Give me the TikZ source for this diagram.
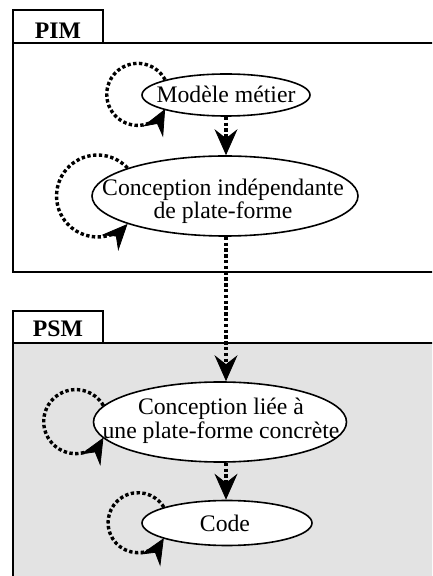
\documentclass[tikz,border=0pt]{standalone}
\usepackage{fontspec}
\setmainfont{Liberation Serif}
\usetikzlibrary{shapes.geometric,arrows.meta}
\definecolor{psmgray}{RGB}{227,227,227}
\begin{document}
\begin{tikzpicture}[x=1pt,y=1pt,
  frame/.style={draw=black, line width=1.1pt},
  tab/.style={draw=black, line width=1.1pt, fill=white},
  stage/.style={ellipse, draw=black, line width=1.6pt, fill=white, inner sep=0pt},
  caption/.style={font=\fontsize{23.7}{24}\selectfont, anchor=base, inner sep=0pt},
  tabtitle/.style={font=\fontsize{23.7}{24}\selectfont\bfseries, anchor=base, inner sep=0pt},
  flow/.style={line width=3.4pt, dash pattern=on 3.4pt off 2.4pt,
    -{Stealth[length=26pt,width=23pt,inset=9pt,line width=0.8pt]}},
]
\useasboundingbox (0,0) rectangle (432,576);
\clip (0,0) rectangle (432,576);

% PIM package
\draw[frame, fill=white] (13,304) rectangle (445,533);
\draw[tab] (13,533) rectangle (103,566);
\node[tabtitle] (pimT) at (58,537.7) {PIM};

% PSM package
\draw[frame, fill=psmgray] (13,-10) rectangle (445,233);
\draw[tab] (13,233) rectangle (103,265);
\node[tabtitle] (psmT) at (58,239.3) {PSM};

% stages
\node[stage, minimum width=168pt, minimum height=42pt] (mm) at (226,481) {};
\node[caption] (mmT) at (226,473) {Modèle métier};

\node[stage, minimum width=266pt, minimum height=80pt] (ci) at (225,380) {};
\node[caption] (ciA) at (223,380) {Conception indépendante};
\node[caption] (ciB) at (223,357) {de plate-forme};

\node[stage, minimum width=253pt, minimum height=80pt] (psm) at (220,154) {};
\node[caption] (psmA) at (221,161) {Conception liée à};
\node[caption] (psmB) at (221,137) {une plate-forme concrète};

\node[stage, minimum width=170pt, minimum height=45pt] (code) at (227,53) {};
\node[caption] (codeT) at (225,44.3) {Code};

% transformations between stages
\draw[flow] (mm.south) -- (mm.south |- ci.north);
\draw[flow] (ci.south -| mm.south) -- (mm.south |- psm.north);
\draw[flow] (psm.south -| mm.south) -- (mm.south |- code.north);

% refinement loops on each stage
\draw[flow] (mm.166) arc[start angle=28, end angle=332, radius=31];
\draw[flow] (ci.164) arc[start angle=43, end angle=317, radius=41];
\draw[flow] (psm.172) arc[start angle=30, end angle=330, radius=32];
\draw[flow] (code.166) arc[start angle=31, end angle=329, radius=30];
\end{tikzpicture}
\end{document}
